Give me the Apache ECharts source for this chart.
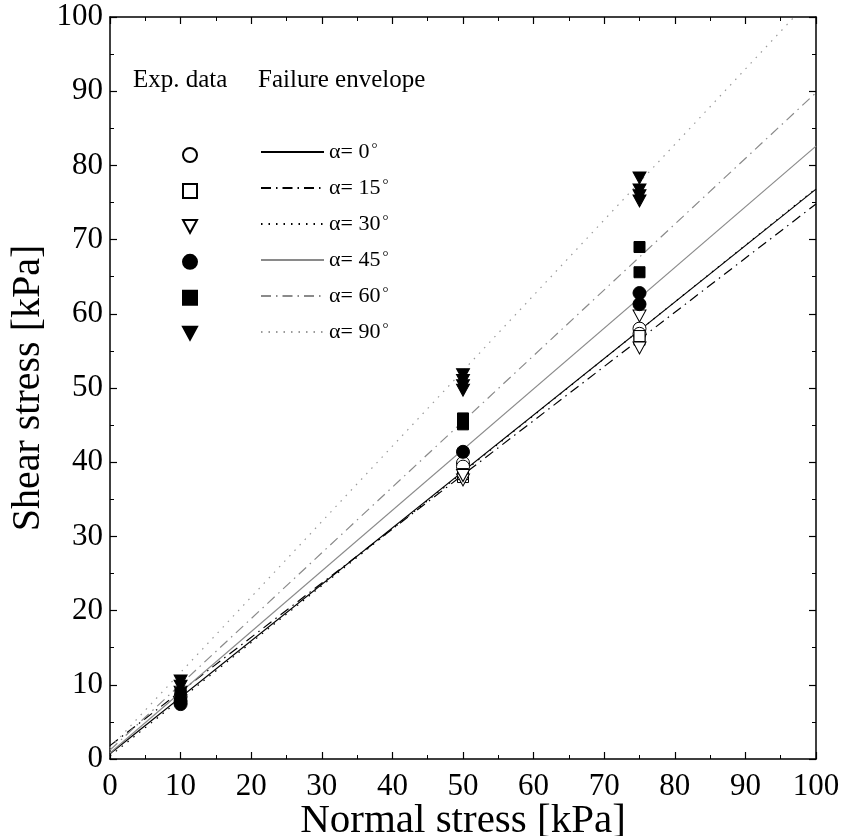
<!DOCTYPE html>
<html>
<head>
<meta charset="utf-8">
<script src="https://cdn.jsdelivr.net/npm/echarts@6/dist/echarts.min.js"></script>
<style>
  html, body { margin: 0; padding: 0; background: #fff; }
  #chart { width: 846px; height: 836px; }
</style>
</head>
<body>
<div id="chart"></div>
<script>
// Inclination angles of the specimens
const angles = ['0', '15', '30', '45', '60', '90'];

// Measured peak shear stress [kPa] at normal stress 10, 50, 75 kPa
const exp0  = [[10, 8.4], [50, 39.9], [50, 39.4], [75, 58.0], [75, 57.3]];
const exp15 = [[10, 8.6], [50, 38.0], [50, 38.4], [75, 56.5], [75, 57.0]];
const exp30 = [[10, 9.0], [50, 37.6], [50, 38.2], [75, 59.7], [75, 55.4]];
const exp45 = [[10, 7.8], [10, 7.4], [50, 41.4], [75, 62.8], [75, 61.3]];
const exp60 = [[10, 8.9], [50, 45.9], [50, 45.1], [75, 69.0], [75, 65.6]];
const exp90 = [[10, 10.5], [10, 9.8], [50, 51.8], [50, 51.0], [50, 50.3], [50, 49.7],
               [75, 78.3], [75, 76.7], [75, 75.9], [75, 75.2]];

// Failure envelopes (Mohr-Coulomb), given by their end points [normal, shear]
const env0  = [[0, 0.7], [100, 76.8]];
const env15 = [[0, 1.8], [100, 74.8]];
const env30 = [[0, 0.4], [100, 76.9]];
const env45 = [[0, 0.8], [100, 82.6]];
const env60 = [[0, 1.2], [100, 89.8]];
const env90 = [[0, 1.5], [96.9, 100]];

const expSets = [exp0, exp15, exp30, exp45, exp60, exp90];
const envSets = [env0, env15, env30, env45, env60, env90];

const FONT = "'Liberation Serif', 'DejaVu Serif', serif";
const GRAY = '#8a8a8a';

// Marker shapes of the test series (downward triangles drawn as paths)
const TRI_DOWN = 'path://M0,0 L12,0 L6,11 Z';
const markerStyle = [
  { symbol: 'circle', fill: '#fff', size: 13 },
  { symbol: 'rect',   fill: '#fff', size: 11 },
  { symbol: TRI_DOWN, fill: '#fff', size: [13, 12] },
  { symbol: 'circle', fill: '#000', size: 13 },
  { symbol: 'rect',   fill: '#000', size: 11 },
  { symbol: TRI_DOWN, fill: '#000', size: [13, 12] }
];
const envStyle = [
  { color: '#000', type: 'solid' },
  { color: '#000', type: [10, 5, 1.5, 5] },
  { color: '#000', type: [1.5, 6] },
  { color: GRAY,   type: 'solid' },
  { color: GRAY,   type: [10, 5, 1.5, 5] },
  { color: '#9a9a9a', type: [1.5, 6] }
];

const series = [];
angles.forEach((a, i) => {
  series.push({
    name: 'env' + a,
    type: 'line',
    data: envSets[i],
    symbol: 'none',
    z: 2,
    lineStyle: { color: envStyle[i].color, width: 1.2, type: envStyle[i].type },
    itemStyle: { color: envStyle[i].color },
    animation: false
  });
});
angles.forEach((a, i) => {
  const m = markerStyle[i];
  series.push({
    name: 'exp' + a,
    type: 'scatter',
    data: expSets[i],
    symbol: m.symbol,
    symbolSize: m.size,
    z: 3,
    itemStyle: { color: m.fill, borderColor: '#000', borderWidth: 1, opacity: 1 },
    animation: false
  });
});

const axisCommon = {
  min: 0, max: 100, interval: 10,
  axisLine: { show: true, onZero: false, lineStyle: { color: '#000', width: 1.5 } },
  axisTick: { show: true, inside: true, length: 7, lineStyle: { color: '#000', width: 1.2 } },
  minorTick: { show: true, splitNumber: 2, length: 4, lineStyle: { color: '#000', width: 1 } },
  splitLine: { show: false }
};

const option = {
  backgroundColor: '#fff',
  animation: false,
  grid: { left: 110, top: 17, right: 30, bottom: 77, containLabel: false, outerBoundsMode: 'none' },
  xAxis: [
    Object.assign({}, axisCommon, {
      type: 'value', position: 'bottom',
      name: 'Normal stress [kPa]', nameLocation: 'middle', nameGap: 42, nameMoveOverlap: false,
      nameTextStyle: { fontFamily: FONT, fontSize: 41, color: '#000' },
      axisLabel: { fontFamily: FONT, fontSize: 31, color: '#000', margin: 12 }
    }),
    Object.assign({}, axisCommon, {
      type: 'value', position: 'top', axisLabel: { show: false }
    })
  ],
  yAxis: [
    Object.assign({}, axisCommon, {
      type: 'value', position: 'left',
      name: 'Shear stress [kPa]', nameLocation: 'middle', nameGap: 62, nameMoveOverlap: false,
      nameTextStyle: { fontFamily: FONT, fontSize: 40, color: '#000' },
      axisLabel: { fontFamily: FONT, fontSize: 31, color: '#000', margin: 7 }
    }),
    Object.assign({}, axisCommon, {
      type: 'value', position: 'right', axisLabel: { show: false }
    })
  ],
  legend: [
    {
      data: angles.map(a => 'exp' + a),
      orient: 'vertical', left: 177, top: 142,
      itemWidth: 14, itemHeight: 14, itemGap: 20,
      formatter: () => '',
      textStyle: { fontSize: 10, lineHeight: 14 },
      selectedMode: false
    },
    {
      data: angles.map(a => 'env' + a),
      orient: 'vertical', left: 255, top: 136,
      itemWidth: 63, itemHeight: 20, itemGap: 12,
      selectedMode: false,
      itemStyle: { opacity: 0 },
      formatter: name => '{a|α= ' + name.slice(3) + '}{s|°}',
      textStyle: {
        color: '#000', fontFamily: FONT, fontSize: 22, lineHeight: 20,
        rich: {
          a: { fontFamily: FONT, fontSize: 22, color: '#000', lineHeight: 20 },
          s: { fontFamily: FONT, fontSize: 15, color: '#000', lineHeight: 8, verticalAlign: 'top', padding: [0, 0, 8, 2] }
        }
      }
    }
  ],
  graphic: [
    { type: 'text', left: 133, top: 68, style: { text: 'Exp. data', font: '25px ' + FONT, fill: '#000' } },
    { type: 'text', left: 258, top: 68, style: { text: 'Failure envelope', font: '25px ' + FONT, fill: '#000' } }
  ],
  series: series
};

const chart = echarts.init(document.getElementById('chart'), null, { renderer: 'canvas' });
chart.setOption(option);
</script>
</body>
</html>
